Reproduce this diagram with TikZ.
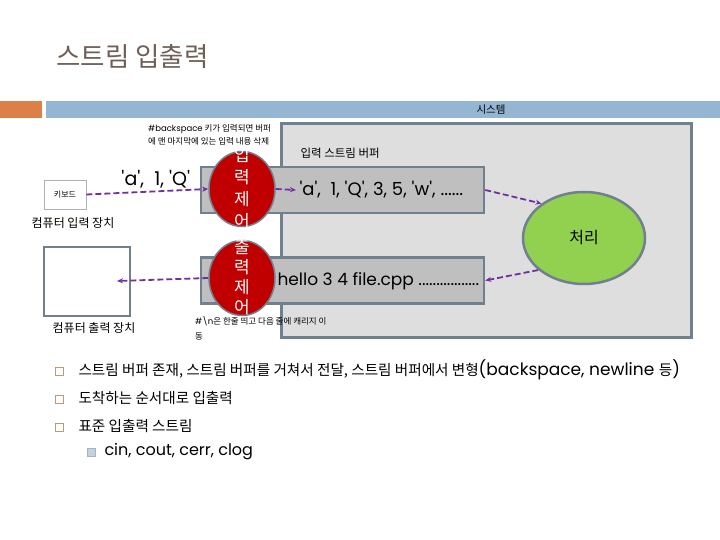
\documentclass[tikz,border=0pt]{standalone}
\usepackage{fontspec}
\setmainfont{Noto Sans CJK KR}
\newfontfamily\latf{Poppins}
\usepackage{tikz}
\usetikzlibrary{positioning, arrows.meta, shapes.geometric}

\definecolor{slate}{HTML}{71808F}
\definecolor{barblue}{HTML}{94B6D2}
\definecolor{barorange}{HTML}{DD8047}
\definecolor{titlegray}{HTML}{6F5F58}
\definecolor{ctrlred}{HTML}{C00000}
\definecolor{procgreen}{HTML}{92D050}
\definecolor{flowpurple}{HTML}{7030A0}
\definecolor{bulletbrown}{HTML}{B89B7E}
\newcommand{\tq}{\textquotesingle}

\begin{document}
\begin{tikzpicture}[x=1pt, y=-1pt,
    buf/.style={draw=slate, line width=2.5pt, fill=black!25, minimum width=283pt, minimum height=46pt},
    ctrl/.style={ellipse, draw=slate, line width=1.5pt, fill=ctrlred, minimum width=66pt, minimum height=75pt, inner sep=0pt},
    ctrltext/.style={text=white, align=center},
    flow/.style={draw=flowpurple, line width=1.8pt, dash pattern=on 6pt off 3pt, -{Stealth[length=6pt, width=5pt]}},
    bul/.style={draw=bulletbrown, line width=0.8pt, minimum size=8pt, inner sep=0pt},
    item/.style={anchor=west, font=\fontsize{14.6}{16}\selectfont}
]
    \useasboundingbox (0,0) rectangle (720,540);
    \fill[white] (0,0) rectangle (720,540);

    % title and bars
    \node[anchor=west, text=titlegray, font=\fontsize{26.5}{30}\selectfont] (title) at (53,57) {스트림 입출력};
    \fill[barorange] (0,101) rectangle (42,118);
    \fill[barblue] (46,101) rectangle (720,118);
    \node[font=\fontsize{10.5}{12}\selectfont] (sys) at (491,110) {시스템};

    % system
    \node[draw=slate, line width=3pt, fill=black!13, minimum width=410pt, minimum height=213pt] (sysbox) at (486,230.5) {};
    \node[buf] (inbuf) at (342.5,190) {};
    \node[buf] (outbuf) at (342.5,280.5) {};
    \node[anchor=west, font=\fontsize{11.5}{13}\selectfont] (inbuflbl) at (297,153) {입력 스트림 버퍼};
    \node[anchor=west, font=\latf\fontsize{18}{20}\selectfont] (indata) at (296,190) {\tq a\tq,\ \ 1, \tq Q\tq, 3, 5, \tq w\tq, ......};
    \node[anchor=west, font=\latf\fontsize{17}{20}\selectfont] (outdata) at (274,281) {hello 3 4 file.cpp .................};
    \node[ellipse, draw=slate, line width=2.5pt, fill=procgreen, minimum width=122pt, minimum height=92pt, font=\fontsize{16}{18}\selectfont] (proc) at (584,238) {처리};

    % control
    \node[ctrl] (incirc) at (242,189) {};
    \node[ctrltext, font=\fontsize{17}{22}\selectfont] (inlbl) at (242,188.5) {입\\력\\제\\어};
    \node[ctrl] (outcirc) at (242,278) {};
    \node[ctrltext, font=\fontsize{17}{20}\selectfont] (outlbl) at (242,277) {출\\력\\제\\어};

    % devices
    \node[draw=slate!60, line width=0.8pt, minimum width=42pt, minimum height=29pt, font=\fontsize{8}{10}\selectfont] (kbd) at (65,194.5) {키보드};
    \node[font=\fontsize{12}{14}\selectfont] (kbdlbl) at (73,223) {컴퓨터 입력 장치};
    \node[draw=slate, line width=2.5pt, fill=white, minimum width=86pt, minimum height=69pt] (mon) at (87,281.5) {};
    \node[font=\fontsize{12}{14}\selectfont] (monlbl) at (94,328) {컴퓨터 출력 장치};
    \coordinate (monin) at (117,281);

    % flows
    \draw[flow] (kbd.east) -- node[pos=0.57, above=-1pt, font=\latf\fontsize{19}{22}\selectfont] (kbdval) {\tq a\tq,\ \ 1,\ \tq Q\tq} (incirc.west);
    \draw[flow] (incirc.east) -- (indata.west);
    \draw[flow] (inbuf.east) -- (proc.141);
    \draw[flow] (proc.215) -- (outbuf.east);
    \draw[flow] (outcirc.west) -- (monin);

    % notes
    \node[anchor=north west, align=left, inner sep=0pt, font=\fontsize{8.5}{13}\selectfont] (bsnote) at (148,124) {{\latf\#backspace} 키가 입력되면 버퍼\\에 맨 마지막에 있는 입력 내용 삭제};
    \node[anchor=north west, align=left, inner sep=0pt, font=\fontsize{8.5}{15}\selectfont] (nlnote) at (195,316) {{\latf\#\textbackslash n}은 한줄 띄고 다음 줄에 캐리지 이\\동};

    % bullets
    \foreach \y/\n in {371/b1, 399/b2, 427/b3}
        \node[bul] (\n) at (59,\y) {};
    \node[item] (t1) at (75,370) {스트림 버퍼 존재, 스트림 버퍼를 거쳐서 전달, 스트림 버퍼에서 변형{\latf\fontsize{17}{18}\selectfont(backspace, newline }등{\latf\fontsize{17}{18}\selectfont)}};
    \node[item] (t2) at (75,398) {도착하는 순서대로 입출력};
    \node[item] (t3) at (75,426) {표준 입출력 스트림};
    \node[draw=slate!60, line width=0.8pt, fill=barblue!60, minimum size=8pt, inner sep=0pt] (sub) at (91,452) {};
    \node[item, font=\latf\fontsize{16}{18}\selectfont] (t4) at (101,452) {cin, cout, cerr, clog};
\end{tikzpicture}
\end{document}
